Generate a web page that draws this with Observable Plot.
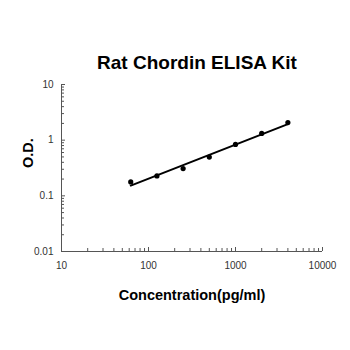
<!DOCTYPE html>
<html>
<head>
<meta charset="utf-8">
<script src="https://cdn.jsdelivr.net/npm/d3@7"></script>
<script src="https://cdn.jsdelivr.net/npm/@observablehq/plot@0.6"></script>
<style>
  html, body { margin: 0; padding: 0; background: #fff; }
  #chart svg { display: block; }
</style>
</head>
<body>
<div id="chart"></div>
<script>
const title = "Rat Chordin ELISA Kit";
const xLabel = "Concentration(pg/ml)";
const yLabel = "O.D.";
const concentration = [62.5, 125, 250, 500, 1000, 2000, 4000];
const od = [0.178, 0.228, 0.309, 0.497, 0.838, 1.32, 2.07];
const xMajor = [10, 100, 1000, 10000];
const yMajor = [0.01, 0.1, 1, 10];

const points = concentration.map((c, i) => ({c, od: od[i]}));

// log-log least squares fit from the data points
const lx = concentration.map(Math.log10), ly = od.map(Math.log10);
const mx = d3.mean(lx), my = d3.mean(ly);
const slope = d3.sum(lx, (v, i) => (v - mx) * (ly[i] - my)) / d3.sum(lx, v => (v - mx) ** 2);
const fitY = c => Math.pow(10, my + slope * (Math.log10(c) - mx));
const fit = [d3.min(concentration), d3.max(concentration)].map(c => ({c, od: fitY(c)}));

const minorOf = (majors) => {
  const out = [];
  for (let i = 0; i < majors.length - 1; i++)
    for (let k = 2; k <= 9; k++) out.push(majors[i] * k);
  return out;
};

const font = "Liberation Sans, Arial, sans-serif";

const chart = Plot.plot({
  width: 350,
  height: 350,
  marginLeft: 61,
  marginRight: 28,
  marginTop: 84,
  marginBottom: 99,
  style: {fontFamily: font, background: "#fff"},
  x: {type: "log", domain: [10, 10000]},
  y: {type: "log", domain: [0.01, 10]},
  marks: [
    Plot.axisX({ticks: minorOf(xMajor), tickSize: -3, text: null, label: null, stroke: "#555"}),
    Plot.axisX({ticks: xMajor, tickSize: -4, tickPadding: 14, tickFormat: d => String(d), label: null, fontSize: 10, fill: "#333", stroke: "#555"}),
    Plot.axisY({ticks: minorOf(yMajor), tickSize: -3, text: null, label: null, stroke: "#555"}),
    Plot.axisY({ticks: yMajor, tickSize: -4, tickPadding: 12, tickFormat: d => String(d), label: null, fontSize: 10, fill: "#333", stroke: "#555"}),
    Plot.ruleX([10], {stroke: "#555"}),
    Plot.ruleY([0.01], {stroke: "#555"}),
    Plot.line(fit, {x: "c", y: "od", stroke: "#000", strokeWidth: 2}),
    Plot.dot(points, {x: "c", y: "od", r: 2.6, fill: "#000", stroke: "none"}),
    Plot.text([title], {frameAnchor: "top", dx: 5, dy: -29, fontSize: 19, fontWeight: "bold", fill: "#000"}),
    Plot.text([xLabel], {frameAnchor: "bottom", dy: 48, fontSize: 14.5, fontWeight: "bold", fill: "#000"}),
    Plot.text([yLabel], {frameAnchor: "left", dx: -33, rotate: -90, fontSize: 14.5, fontWeight: "bold", fill: "#000"})
  ]
});
document.getElementById("chart").appendChild(chart);
</script>
</body>
</html>
